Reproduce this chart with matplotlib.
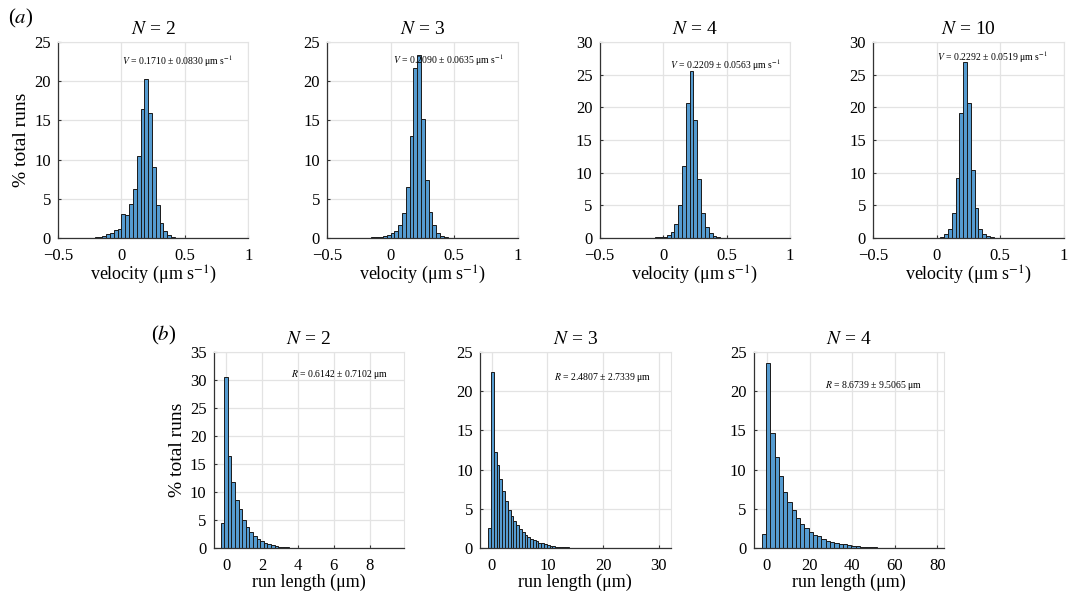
import numpy as np
import matplotlib
matplotlib.use("Agg")
import matplotlib.pyplot as plt

plt.rcParams['font.family'] = ['Liberation Serif', 'DejaVu Serif']
plt.rcParams['mathtext.fontset'] = 'stix'

# (a) velocity histograms: first bin edge, bin width, bar heights (% total runs)
vel_N = [2, 3, 4, 10]
vel_start = [-0.24, -0.21, -0.12, -0.03]
vel_width = [0.03, 0.03, 0.03, 0.03]
vel_heights = [
    [0.04, 0.08, 0.15, 0.25, 0.45, 0.7, 1.0, 1.1,
     3.1, 2.9, 4.3, 6.3, 10.5, 16.4, 20.3, 16.0, 9.0, 4.2, 1.85, 0.85, 0.35, 0.1],
    [0.03, 0.05, 0.08, 0.12, 0.18, 0.25, 0.35,
     0.7, 0.9, 1.6, 3.2, 6.5, 13.0, 21.7, 23.4, 15.2, 7.4, 3.3, 1.6, 0.7, 0.3, 0.1],
    [0.03, 0.05, 0.08, 0.12,
     0.2, 0.4, 0.9, 2.1, 5.0, 11.0, 20.6, 25.6, 18.1, 9.0, 3.8, 1.7, 0.8, 0.3, 0.1],
    [0.03,
     0.05, 0.15, 0.6, 1.4, 3.8, 9.2, 19.1, 27.0, 20.6, 10.4, 4.6, 1.4, 0.6, 0.3, 0.1],
]
vel_text = [r'$V$ = 0.1710 ± 0.0830 μm s$^{-1}$',
            r'$V$ = 0.2090 ± 0.0635 μm s$^{-1}$',
            r'$V$ = 0.2209 ± 0.0563 μm s$^{-1}$',
            r'$V$ = 0.2292 ± 0.0519 μm s$^{-1}$']
vel_ymax = [25, 25, 30, 30]

# (b) run length histograms
run_N = [2, 3, 4]
run_start = [-0.3, -0.6, -2.4]
run_width = [0.2, 0.5, 2.0]
run_heights = [
    [4.5, 30.5, 16.4, 11.8, 8.5, 7.0, 5.0, 3.7, 2.8, 2.1, 1.6, 1.2, 0.9, 0.65,
     0.5, 0.35, 0.25, 0.18, 0.12, 0.08, 0.05, 0.03],
    [2.5, 22.4, 12.3, 10.6, 8.8, 7.3, 6.0, 4.8, 4.1, 3.5, 2.9, 2.4, 2.0, 1.7,
     1.4, 1.2, 1.0, 0.85, 0.7, 0.58, 0.47, 0.38, 0.3, 0.24, 0.19, 0.15, 0.12,
     0.09, 0.07, 0.05, 0.04, 0.03, 0.02, 0.015],
    [1.8, 23.6, 14.7, 11.6, 9.2, 7.2, 5.9, 4.8, 3.8, 3.1, 2.6, 2.0, 1.7, 1.5,
     1.1, 0.95, 0.8, 0.65, 0.55, 0.45, 0.35, 0.28, 0.22, 0.18, 0.14, 0.1, 0.08,
     0.06, 0.05, 0.04, 0.03, 0.02, 0.02, 0.01],
]
run_text = [r'$R$ = 0.6142 ± 0.7102 μm',
            r'$R$ = 2.4807 ± 2.7339 μm',
            r'$R$ = 8.6739 ± 9.5065 μm']
run_ymax = [35, 25, 25]
run_xlim = [(-0.7, 9.9), (-2.1, 32.1), (-6.3, 83.1)]
run_xticks = [[0, 2, 4, 6, 8], [0, 10, 20, 30], [0, 20, 40, 60, 80]]

W, H = 1068, 595
fig = plt.figure(figsize=(W / 100, H / 100), dpi=100)

face = '#559bd0'
grid_c = '#e3e3e3'


def make_axes(x0, x1, ytop, ybot):
    return fig.add_axes([x0 / W, (H - ybot) / H, (x1 - x0) / W, (ybot - ytop) / H])


def style(ax, ymax):
    ax.set_ylim(0, ymax)
    ax.set_yticks(np.arange(0, ymax + 1, 5))
    ax.grid(True, color=grid_c, linewidth=0.9)
    ax.set_axisbelow(True)
    for s in ['top', 'right']:
        ax.spines[s].set_color(grid_c)
    for s in ['left', 'bottom']:
        ax.spines[s].set_color('#333333')
        ax.spines[s].set_linewidth(0.9)
    ax.tick_params(direction='in', length=2.5, labelsize=12, color='#333333')
    ax.tick_params(axis='x', pad=7)
    ax.tick_params(axis='y', pad=5)


def draw_hist(ax, start, width, heights):
    edges = start + width * np.arange(len(heights) + 1)
    ax.bar(edges[:-1], heights, width=width, align='edge', color=face,
           edgecolor='#1a1a1a', linewidth=0.7)


# row (a)
a_left = [58, 327, 599.5, 873]
for i in range(4):
    ax = make_axes(a_left[i], a_left[i] + 190.5, 42, 238)
    draw_hist(ax, vel_start[i], vel_width[i], vel_heights[i])
    style(ax, vel_ymax[i])
    ax.set_xlim(-0.5, 1)
    ax.set_xticks([-0.5, 0, 0.5, 1])
    ax.set_xticklabels(['\u22120.5', '0', '0.5', '1'])
    ax.set_title('$N$ = %d' % vel_N[i], fontsize=14, pad=6)
    ax.set_xlabel(r'velocity (μm s$^{-1}$)', fontsize=13, labelpad=0)
    tx = [0.63, 0.64, 0.66, 0.63][i]
    ty = [0.90, 0.905, 0.88, 0.92][i]
    ax.text(tx, ty, vel_text[i], transform=ax.transAxes, ha='center',
            va='center', fontsize=7)
    if i == 0:
        ax.set_ylabel('% total runs', fontsize=14, labelpad=3)

# row (b)
b_left = [213.5, 480, 753.5]
for i in range(3):
    ax = make_axes(b_left[i], b_left[i] + 190.5, 352, 548)
    draw_hist(ax, run_start[i], run_width[i], run_heights[i])
    style(ax, run_ymax[i])
    ax.set_xlim(*run_xlim[i])
    ax.set_xticks(run_xticks[i])
    ax.set_title('$N$ = %d' % run_N[i], fontsize=14, pad=6)
    ax.set_xlabel('run length (μm)', fontsize=13, labelpad=0)
    tx = [0.66, 0.645, 0.63][i]
    ty = [0.885, 0.872, 0.828][i]
    ax.text(tx, ty, run_text[i], transform=ax.transAxes, ha='center',
            va='center', fontsize=7)
    if i == 0:
        ax.set_ylabel('% total runs', fontsize=14, labelpad=3)

fig.text(8 / W, 1 - 18 / H, '($a$)', fontsize=15, va='center', ha='left')
fig.text(151 / W, 1 - 335 / H, '($b$)', fontsize=15, va='center', ha='left')

fig.savefig('out.png', dpi=100)
